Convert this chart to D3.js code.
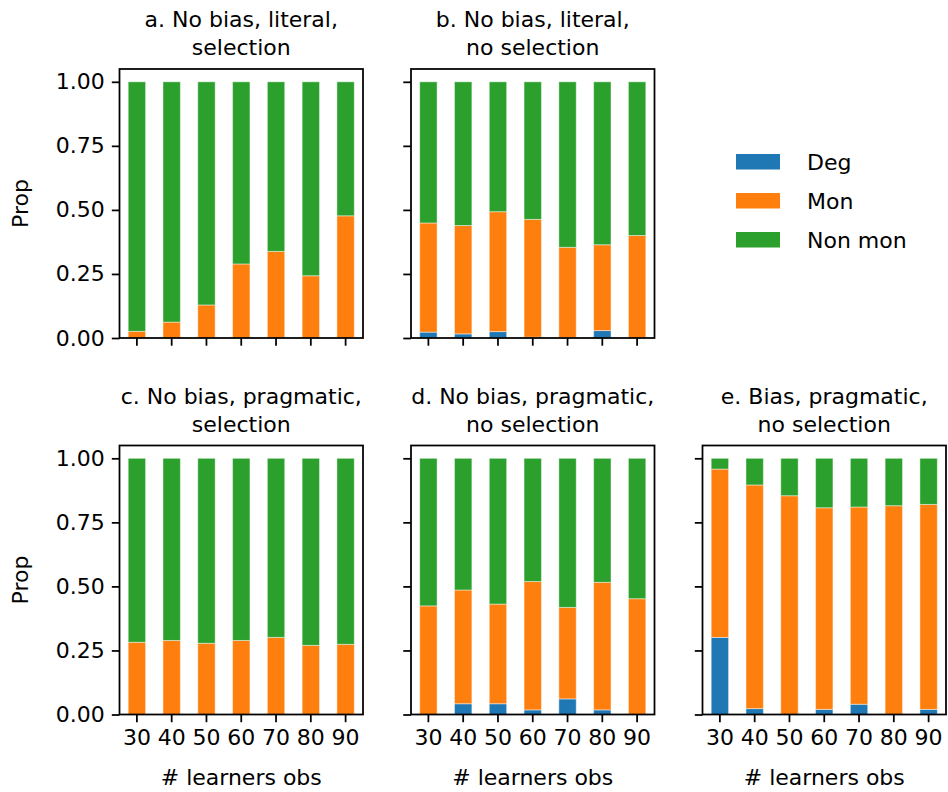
<!DOCTYPE html>
<html>
<head>
<meta charset="utf-8">
<script src="https://cdn.jsdelivr.net/npm/d3@7"></script>
<style>
  html, body { margin: 0; padding: 0; background: #fff; }
  svg { display: block; font-family: "DejaVu Sans", sans-serif; }
</style>
</head>
<body>
<svg id="chart" width="948" height="792"></svg>
<script>
// Observation counts on the x axis
const obsCounts = ["30", "40", "50", "60", "70", "80", "90"];
const seriesNames = ["Deg", "Mon", "Non mon"];
const seriesColors = ["#1f77b4", "#ff7f0e", "#2ca02c"];
const yTicks = [0, 0.25, 0.5, 0.75, 1.0];

// Panel titles
const titleA = ["a. No bias, literal,", "selection"];
const titleB = ["b. No bias, literal,", "no selection"];
const titleC = ["c. No bias, pragmatic,", "selection"];
const titleD = ["d. No bias, pragmatic,", "no selection"];
const titleE = ["e. Bias, pragmatic,", "no selection"];

// Proportion of degenerate / monotone languages per condition
const degA = [0, 0, 0, 0, 0, 0, 0];
const monA = [0.026, 0.062, 0.129, 0.289, 0.338, 0.243, 0.477];

const degB = [0.023, 0.016, 0.025, 0.003, 0.002, 0.029, 0];
const monB = [0.426, 0.423, 0.468, 0.460, 0.352, 0.335, 0.400];

const degC = [0, 0, 0, 0, 0, 0, 0];
const monC = [0.282, 0.289, 0.278, 0.289, 0.301, 0.270, 0.274];

const degD = [0, 0.042, 0.042, 0.018, 0.061, 0.018, 0];
const monD = [0.424, 0.444, 0.389, 0.501, 0.357, 0.498, 0.452];

const degE = [0.301, 0.023, 0, 0.020, 0.040, 0, 0.020];
const monE = [0.657, 0.873, 0.854, 0.787, 0.770, 0.815, 0.800];

function rows(deg, mon) {
  return obsCounts.map((c, i) => ({
    obs: c,
    "Deg": deg[i],
    "Mon": mon[i],
    "Non mon": 1 - deg[i] - mon[i]
  }));
}

const panels = [
  { title: titleA, data: rows(degA, monA), x0: 119.5, y0: 69,    yLabels: true,  xLabels: false },
  { title: titleB, data: rows(degB, monB), x0: 411,   y0: 69,    yLabels: false, xLabels: false },
  { title: titleC, data: rows(degC, monC), x0: 119.5, y0: 445.5, yLabels: true,  xLabels: true },
  { title: titleD, data: rows(degD, monD), x0: 411,   y0: 445.5, yLabels: false, xLabels: true },
  { title: titleE, data: rows(degE, monE), x0: 702.5, y0: 445.5, yLabels: false, xLabels: true }
];

const W = 243.5, H = 269;
const fontSize = 22;
const svg = d3.select("#chart");
const stack = d3.stack().keys(seriesNames);
const color = d3.scaleOrdinal().domain(seriesNames).range(seriesColors);

panels.forEach(p => {
  const g = svg.append("g").attr("transform", `translate(${p.x0},${p.y0})`);
  const x = d3.scaleBand().domain(obsCounts).range([0, W]).paddingInner(0.5).paddingOuter(0.25);
  const y = d3.scaleLinear().domain([0, 1.05]).range([H, 0]);

  const layers = stack(p.data);
  g.selectAll("g.layer").data(layers).join("g")
    .attr("class", "layer")
    .attr("fill", d => color(d.key))
    .selectAll("rect").data(d => d).join("rect")
    .attr("x", d => x(d.data.obs))
    .attr("width", x.bandwidth())
    .attr("y", d => y(d[1]))
    .attr("height", d => Math.max(0, y(d[0]) - y(d[1])))
    .attr("stroke", "#fff")
    .attr("stroke-opacity", 0.45)
    .attr("stroke-width", 1);

  // y axis
  const yAxis = d3.axisLeft(y).tickValues(yTicks).tickSize(7.7).tickPadding(7)
    .tickFormat(p.yLabels ? d3.format(".2f") : () => "");
  const ya = g.append("g").call(yAxis);
  ya.select(".domain").remove();
  ya.selectAll("line").attr("stroke", "#000").attr("stroke-width", 1.76);
  ya.selectAll("text").attr("font-size", fontSize).attr("fill", "#000")
    .attr("font-family", "DejaVu Sans");

  // x axis
  const xAxis = d3.axisBottom(x).tickSize(7.7).tickPadding(7)
    .tickFormat(p.xLabels ? (d => d) : () => "");
  const xa = g.append("g").attr("transform", `translate(0,${H})`).call(xAxis);
  xa.select(".domain").remove();
  xa.selectAll("line").attr("stroke", "#000").attr("stroke-width", 1.76);
  xa.selectAll("text").attr("font-size", fontSize).attr("fill", "#000")
    .attr("font-family", "DejaVu Sans");

  // frame
  g.append("rect").attr("x", 0).attr("y", 0).attr("width", W).attr("height", H)
    .attr("fill", "none").attr("stroke", "#000").attr("stroke-width", 1.76);

  // title
  const t = g.append("text").attr("text-anchor", "middle")
    .attr("x", W / 2).attr("font-size", fontSize).attr("fill", "#000");
  t.append("tspan").attr("x", W / 2).attr("y", -42).text(p.title[0]);
  t.append("tspan").attr("x", W / 2).attr("y", -14).text(p.title[1]);

  if (p.yLabels) {
    g.append("text").attr("transform", `translate(${-92},${H / 2}) rotate(-90)`)
      .attr("text-anchor", "middle").attr("font-size", fontSize).attr("fill", "#000")
      .text("Prop");
  }
  if (p.xLabels) {
    g.append("text").attr("x", W / 2).attr("y", H + 70)
      .attr("text-anchor", "middle").attr("font-size", fontSize).attr("fill", "#000")
      .text("# learners obs");
  }
});

// legend
const legend = svg.append("g").attr("transform", "translate(736,154)");
seriesNames.forEach((name, i) => {
  const row = legend.append("g").attr("transform", `translate(0,${i * 39})`);
  row.append("rect").attr("width", 44).attr("height", 15.5).attr("fill", color(name));
  row.append("text").attr("x", 71).attr("y", 15.5).attr("font-size", fontSize)
    .attr("fill", "#000").text(name);
});
</script>
</body>
</html>
